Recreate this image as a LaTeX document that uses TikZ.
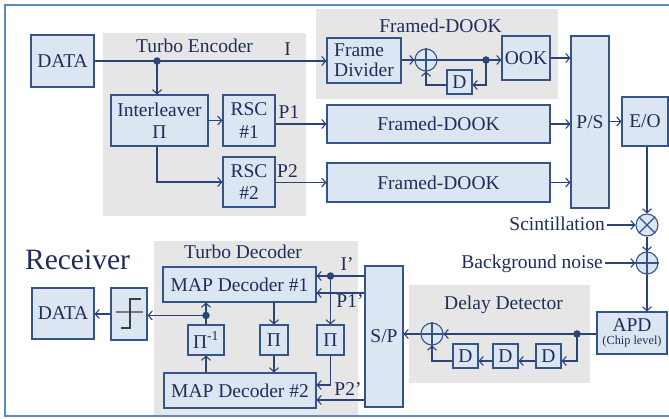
\documentclass[tikz,border=0pt]{standalone}
\usepackage{fontspec}
\setmainfont{Liberation Serif}
\usetikzlibrary{arrows.meta,calc}
\definecolor{boxfill}{HTML}{DCE6F2}
\definecolor{boxdraw}{HTML}{34548A}
\definecolor{txt}{HTML}{1F2D5A}
\definecolor{ln}{HTML}{2A4478}
\definecolor{graybg}{HTML}{E6E6E6}
\definecolor{frame}{HTML}{5B8AC4}
\definecolor{stepc}{HTML}{3F3F3F}
\definecolor{stepl}{HTML}{7A7A7A}
\newcommand{\mf}{\fontsize{19.5}{21}\selectfont}
\begin{document}
\begin{tikzpicture}[x=1pt,y=-1pt,
  box/.style={draw=boxdraw,fill=boxfill,line width=1.1pt,inner sep=0pt,text=txt,font=\mf,align=center},
  sumc/.style={circle,draw=boxdraw,fill=boxfill,line width=1.1pt,minimum size=22pt,inner sep=0pt},
  lbl/.style={text=txt,font=\mf,inner sep=0pt,anchor=base},
  conn/.style={draw=ln,line width=1.1pt,-{Straight Barb[length=4pt,width=9pt,line width=1.1pt]}},
  wire/.style={draw=ln,line width=1.1pt},
  dot/.style={circle,fill=ln,inner sep=0pt,minimum size=7.5pt}]
\useasboundingbox (0,0) rectangle (669,419);
\fill[white] (0,0) rectangle (669,419);
% gray group backgrounds
\fill[graybg] (103,33) rectangle (306,216);
\fill[graybg] (316,9) rectangle (558,99);
\fill[graybg] (154,241) rectangle (358,416);
\fill[graybg] (409,285) rectangle (590,383);
% outer frame
\draw[frame,line width=2pt] (669,5) -- (5,5) -- (5,416) -- (669,416);

% ---------- Transmitter ----------
\node[box,minimum width=63,minimum height=52] (dataT) at (62.5,61) {DATA};
\node[lbl] (encT) at (194.5,53) {Turbo Encoder};
\node[lbl] (lblI) at (287.5,56) {I};
\node[box,minimum width=97,minimum height=51,font=\fontsize{19.5}{22}\selectfont] (intl) at (159.5,120.5) {Interleaver\\Π};
\node[box,minimum width=52,minimum height=51,font=\fontsize{19.5}{22.5}\selectfont] (rsc1) at (249,120.5) {RSC\\\#1};
\node[box,minimum width=52,minimum height=50,font=\fontsize{19.5}{22.5}\selectfont] (rsc2) at (249,182) {RSC\\\#2};
\node[lbl] (lblP1) at (289,119) {P1};
\node[lbl] (lblP2) at (287.5,178) {P2};
\coordinate (encdot) at (157,61);

\node[lbl] (dookT) at (440.5,33) {Framed-DOOK};
\node[box,minimum width=74,minimum height=45,font=\fontsize{19.5}{20}\selectfont,align=left] (fdiv) at (364,60.5) {Frame\\Divider};
\node[sumc] (xor1) at (426,60) {};
\node[box,minimum width=25,minimum height=24] (dly) at (459.5,82) {D};
\node[box,minimum width=48,minimum height=44] (ook) at (526,58) {OOK};
\coordinate (dk) at (486,60);
\node[box,minimum width=223,minimum height=38] (fd2) at (438.5,124) {Framed-DOOK};
\node[box,minimum width=223,minimum height=39] (fd3) at (438.5,182.5) {Framed-DOOK};
\node[box,minimum width=38,minimum height=172] (ps) at (590,122) {P/S};
\node[box,minimum width=46,minimum height=49] (eo) at (645,121.5) {E/O};

\node[sumc] (scint) at (647,225) {};
\node[sumc] (noise) at (647,263) {};
\node[lbl,anchor=base east] (scintl) at (605,231) {Scintillation};
\node[lbl,anchor=base east] (noisel) at (603,269) {Background noise};
\node[box,minimum width=70,minimum height=42,font=\fontsize{19.5}{13.5}\selectfont] (apd) at (632,333) {APD\\{\fontsize{12.3}{13}\selectfont (Chip level)}};

% symbols in circles
\draw[boxdraw,line width=1.1pt] (xor1.north) -- (xor1.south) (xor1.west) -- (xor1.east);
\draw[boxdraw,line width=1.1pt] (noise.north) -- (noise.south) (noise.west) -- (noise.east);
\draw[boxdraw,line width=1.1pt] (scint.north west) -- (scint.south east) (scint.north east) -- (scint.south west);

% transmitter connectors
\draw[conn] (dataT.east) -- (dataT.east -| fdiv.west);
\draw[conn] (encdot) -- (encdot |- intl.north);
\draw[conn] (encdot |- intl.south) |- (rsc2.west);
\draw[conn] (intl.east) -- (rsc1.west);
\draw[conn] (rsc1.east |- fd2) -- (fd2.west);
\draw[conn] (rsc2.east |- fd3) -- (fd3.west);
\draw[conn] (fdiv.east |- xor1) -- (xor1.west);
\draw[conn] (xor1.east) -- (xor1.east -| ook.west);
\draw[conn] (dk) |- ($(dly.east)+(0,3)$);
\draw[conn] ($(dly.west)+(0,3)$) -| (xor1.south);
\draw[conn] (ook.east) -- (ook.east -| ps.west);
\draw[conn] (fd2.east) -- (fd2.east -| ps.west);
\draw[conn] (fd3.east) -- (fd3.east -| ps.west);
\draw[conn] (ps.east |- eo) -- (eo.west);
\draw[conn] (scint.north |- eo.south) -- (scint.north);
\draw[conn] (scint.south) -- (noise.north);
\draw[conn] (noise.south) -- (noise.south |- apd.north);
\draw[conn] ([xshift=2pt]scintl.east |- scint) -- (scint.west);
\draw[conn] ([xshift=2pt]noisel.east |- noise) -- (noise.west);
\node[dot] (encdotn) at (encdot) {};
\node[dot] (dkn) at (dk) {};

% ---------- Delay detector ----------
\node[lbl] (ddT) at (503.5,310) {Delay Detector};
\node[sumc] (xor2) at (432,334) {};
\draw[boxdraw,line width=1.1pt] (xor2.north) -- (xor2.south) (xor2.west) -- (xor2.east);
\node[box,minimum width=25,minimum height=24] (d3) at (548.5,356) {D};
\node[box,minimum width=25,minimum height=24] (d2) at (505.5,356) {D};
\node[box,minimum width=25,minimum height=24] (d1) at (465.5,356) {D};
\coordinate (ddot) at (577,334);
\node[box,minimum width=38,minimum height=141] (sp) at (384,336.5) {S/P};
\draw[conn] (apd.west |- xor2) -- (xor2.east);
\draw[conn] (ddot) |- ($(d3.east)+(0,5)$);
\draw[conn] ($(d3.west)+(0,5)$) -- ($(d2.east)+(0,5)$);
\draw[conn] ($(d2.west)+(0,5)$) -- ($(d1.east)+(0,5)$);
\draw[conn] ($(d1.west)+(0,5)$) -| (xor2.south);
\draw[conn] (xor2.west) -- (xor2.west -| sp.east);
\node[dot] (ddotn) at (ddot) {};

% ---------- Turbo decoder ----------
\node[lbl] (decT) at (243,259) {Turbo Decoder};
\node[box,minimum width=153,minimum height=35] (map1) at (239.5,284.5) {MAP Decoder \#1};
\node[box,minimum width=152,minimum height=35] (map2) at (240,390.5) {MAP Decoder \#2};
\node[box,minimum width=36,minimum height=30] (piinv) at (206,340) {Π\textsuperscript{-1}};
\node[box,minimum width=28,minimum height=30] (pim) at (274,340) {Π};
\node[box,minimum width=27,minimum height=30] (pir) at (330.5,340) {Π};
\node[lbl] (lblIp) at (347,271) {I’};
\node[lbl] (lblP1p) at (350,308) {P1’};
\node[lbl] (lblP2p) at (348,395) {P2’};
\coordinate (iin) at ($(map1.east)+(0,-8.5)$);
\coordinate (p1in) at ($(map1.east)+(0,8.5)$);
\coordinate (p2in) at ($(map2.east)+(0,9.5)$);
\coordinate (pirin) at ($(map2.east)+(0,-5.5)$);
\coordinate (idot) at (pir.north |- iin);
\coordinate (odot) at ($(piinv.north)+(0,-9)$);
\draw[conn] (sp.west |- iin) -- (iin);
\draw[conn] (sp.west |- p1in) -- (p1in);
\draw[conn] (sp.west |- p2in) -- (p2in);
\draw[conn] (idot) -- (pir.north);
\draw[conn] (pir.south) |- (pirin);
\draw[conn] (map1.south -| pim) -- (pim.north);
\draw[conn] (pim.south) -- (pim.south |- map2.north);
\draw[conn] (map2.north -| piinv) -- (piinv.south);
\draw[wire] (piinv.north) -- (odot);
\draw[conn] (odot) -- (odot |- map1.south);

% ---------- Receiver output ----------
\node[lbl,font=\fontsize{29.5}{30}\selectfont] (recv) at (77.5,270) {Receiver};
\node[box,minimum width=36,minimum height=52] (hard) at (129,314) {};
\draw[stepl,line width=1.2pt] ($(hard)+(-13,-2)$) -- ($(hard)+(14,-2)$);
\draw[stepc,line width=1.3pt] ($(hard)+(-8,14)$) -- ($(hard)+(1,14)$) -- ($(hard)+(1,-15)$) -- ($(hard)+(12,-15)$);
\node[box,minimum width=62,minimum height=51] (dataR) at (63,313.5) {DATA};
\draw[conn] (odot) -- (odot -| hard.east);
\draw[conn] (hard.west) -- (hard.west -| dataR.east);
\node[dot] (idotn) at (idot) {};
\node[dot] (odotn) at (odot) {};
\end{tikzpicture}
\end{document}
